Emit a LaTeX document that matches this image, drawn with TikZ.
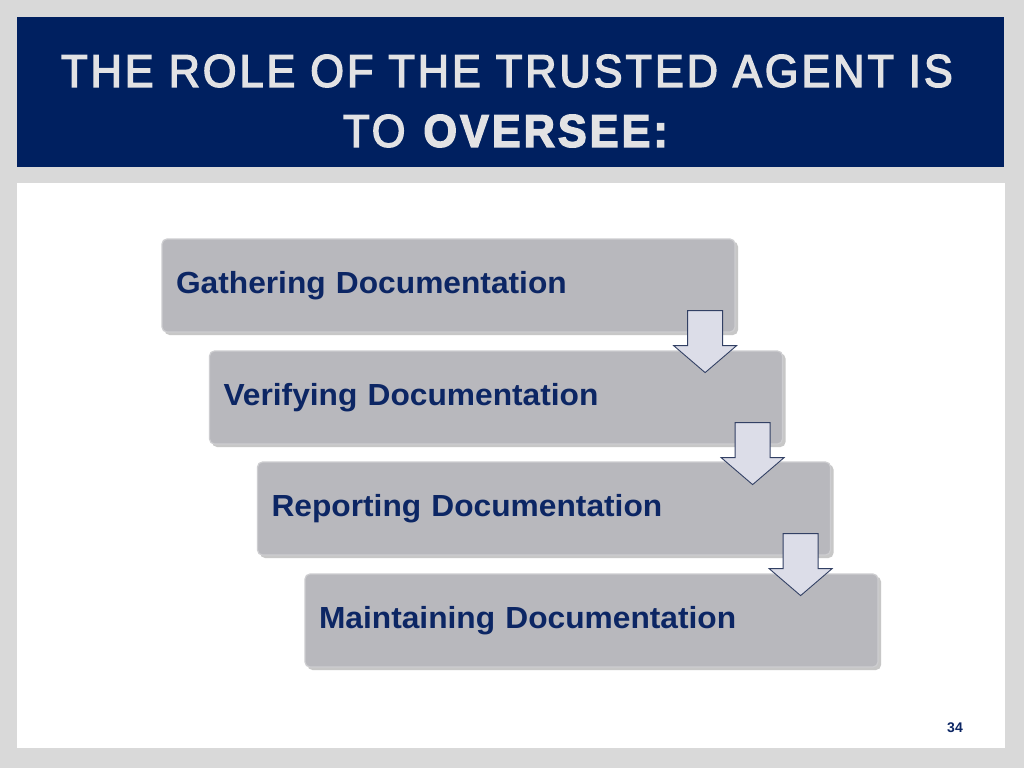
\documentclass[tikz,border=0pt]{standalone}
\usepackage{fontspec}
\setmainfont{Liberation Sans}
\newfontfamily\titlefont[FakeStretch=0.94,LetterSpace=6.5,FakeBold=3]{Liberation Sans}
\newfontfamily\boxfont[FakeStretch=1.04]{Liberation Sans}
\usetikzlibrary{calc}

\definecolor{navy}{RGB}{0,32,96}
\definecolor{slidegray}{RGB}{217,217,217}
\definecolor{titletext}{RGB}{226,226,228}
\definecolor{boxfill}{RGB}{184,184,189}
\definecolor{boxline}{RGB}{205,205,208}
\definecolor{boxtext}{RGB}{12,38,100}
\definecolor{arrowfill}{RGB}{220,221,232}
\definecolor{arrowline}{RGB}{50,64,100}

\tikzset{
  stepbox/.style={rounded corners=5pt, fill=boxfill, draw=boxline, line width=1.2pt,
    minimum width=573pt, minimum height=93pt, text width=545pt, align=left,
    inner sep=0pt, font=\boxfont\bfseries\fontsize{30.5}{34}\selectfont, text=boxtext},
  boxshadow/.style={rounded corners=5pt, fill=black!22, draw=none},
  downarrow/.style={fill=arrowfill, draw=arrowline, line width=0.9pt, line join=miter}
}

% block arrow hanging from a box corner
\newcommand{\blockarrow}[1]{%
  \draw[downarrow] ($(#1.south east)+(-48,-22)$) -- ++(35,0) -- ++(0,35)
    -- ++(14,0) -- ++(-31.5,27) -- ++(-31.5,-27) -- ++(14,0) -- cycle;}

\begin{document}
\begin{tikzpicture}[x=1pt,y=-1pt]
\useasboundingbox (0,0) rectangle (1024,768);
\fill[slidegray] (0,0) rectangle (1024,768);

% Title band
\fill[navy] (17,17) rectangle (1004,167);
\path (507,101) coordinate (title);
\node[text=titletext, align=center, font=\titlefont\fontsize{46}{60}\selectfont] (head) at (title)
  {THE ROLE OF THE TRUSTED AGENT IS\\TO \textbf{OVERSEE:}};

% Content panel
\fill[white] (17,183) rectangle (1005,748);

% Steps
\path (448.5,285.5) coordinate (P1);
\path (496,397.5) coordinate (P2);
\path (544,508.5) coordinate (P3);
\path (591.5,620.5) coordinate (P4);

\foreach \p in {P1,P2,P3,P4}
  \fill[boxshadow] ($(\p)+(-284,-44)$) rectangle ($(\p)+(289.5,49.5)$);

\node[stepbox] (gather) at (P1) {Gathering Documentation};
\node[stepbox] (verify) at (P2) {Verifying Documentation};
\node[stepbox] (report) at (P3) {Reporting Documentation};
\node[stepbox] (keep) at (P4) {Maintaining Documentation};

% Arrows between steps
\blockarrow{gather}
\blockarrow{verify}
\blockarrow{report}

% Page number
\node[text=boxtext, font=\bfseries\fontsize{14}{16}\selectfont] (page) at (955,728) {34};
\end{tikzpicture}
\end{document}
